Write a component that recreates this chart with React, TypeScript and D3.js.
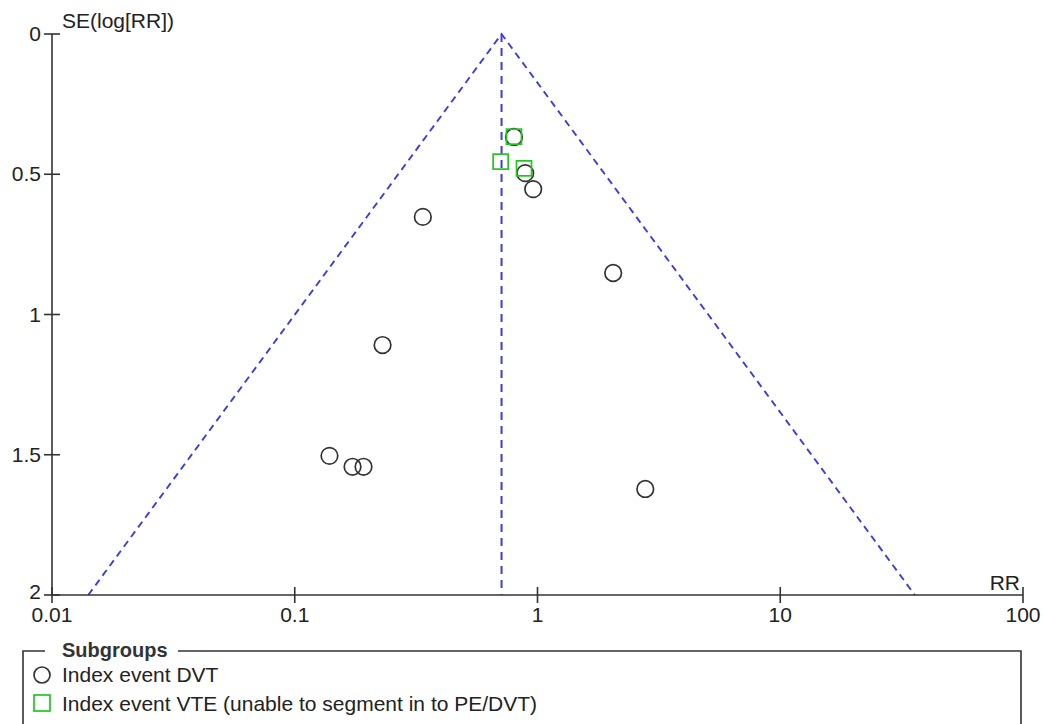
import React from "react";
import * as d3 from "d3";

const dvtRR = [0.80, 0.89, 0.96, 0.337, 2.05, 0.23, 0.139, 0.173, 0.192, 2.78];
const dvtSE = [0.367, 0.496, 0.553, 0.652, 0.852, 1.109, 1.504, 1.543, 1.543, 1.622];
const vteRR = [0.80, 0.705, 0.88];
const vteSE = [0.366, 0.455, 0.479];
const pooledRR = 0.711;
const xTicks = [0.01, 0.1, 1, 10, 100];
const xTickLabels = ["0.01", "0.1", "1", "10", "100"];
const yTicks = [0, 0.5, 1, 1.5, 2];
const yTickLabels = ["0", "0.5", "1", "1.5", "2"];
const legendLabels = ["Index event DVT", "Index event VTE (unable to segment in to PE/DVT)"];

const W = 1043;
const H = 724;
const FONT = "'Liberation Sans', Arial, sans-serif";
const FS = 21;

export default function App() {
  const x = d3.scaleLog().domain([0.01, 100]).range([52, 1023]);
  const y = d3.scaleLinear().domain([0, 2]).range([34, 595]);
  const axisColor = "#333";
  const blue = "#3c3ce0";
  const green = "#1ec81e";

  const seMax = 2;
  const lp = Math.log(pooledRR);
  const funnel = d3.line<[number, number]>()
    .x((d) => x(d[0]))
    .y((d) => y(d[1]));
  const funnelPts: [number, number][] = [
    [Math.exp(lp - 1.96 * seMax), seMax],
    [pooledRR, 0],
    [Math.exp(lp + 1.96 * seMax), seMax],
  ];

  const x0 = x(0.01);
  const y0 = y(2);

  return (
    <div style={{ position: "absolute", left: 0, top: 0 }}>
      <svg width={W} height={H} style={{ display: "block", background: "#fff" }} fontFamily={FONT}>
        {/* funnel */}
        <path d={funnel(funnelPts) || ""} fill="none" stroke={blue} strokeWidth={1.9} strokeDasharray="7,5" />
        <line x1={x(pooledRR)} x2={x(pooledRR)} y1={y(0)} y2={y(2)} stroke={blue} strokeWidth={2} strokeDasharray="8,6" />

        {/* axes */}
        <line x1={x0} x2={x0} y1={y(0)} y2={y0} stroke={axisColor} strokeWidth={1.6} />
        <line x1={x0} x2={x(100)} y1={y0} y2={y0} stroke={axisColor} strokeWidth={1.6} />
        {yTicks.map((t, i) => (
          <g key={"y" + i}>
            <line x1={x0 - 8} x2={x0 + 8} y1={y(t)} y2={y(t)} stroke={axisColor} strokeWidth={1.6} />
            <text x={x0 - 11} y={y(t) + (i === yTicks.length - 1 ? 4 : 7)} fontSize={FS} textAnchor="end" fill="#222">{yTickLabels[i]}</text>
          </g>
        ))}
        {xTicks.map((t, i) => (
          <g key={"x" + i}>
            <line x1={x(t)} x2={x(t)} y1={y0 - 8} y2={y0 + 8} stroke={axisColor} strokeWidth={1.6} />
            <text x={x(t)} y={y0 + 27} fontSize={FS} textAnchor="middle" fill="#222">{xTickLabels[i]}</text>
          </g>
        ))}
        <text x={62} y={28} fontSize={FS} fill="#222">SE(log[RR])</text>
        <text x={1020} y={590} fontSize={FS} textAnchor="end" fill="#222">RR</text>

        {/* points */}
        {dvtRR.map((v, i) => (
          <circle key={"c" + i} cx={x(v)} cy={y(dvtSE[i])} r={8.3} fill="none" stroke="#333" strokeWidth={1.7} />
        ))}
        {vteRR.map((v, i) => (
          <rect key={"s" + i} x={x(v) - 7.5} y={y(vteSE[i]) - 7.5} width={15} height={15} fill="none" stroke={green} strokeWidth={1.7} />
        ))}

        {/* legend */}
        <path d={`M45,651 L23,651 L23,730 M1021,730 L1021,651 L178,651`} fill="none" stroke={axisColor} strokeWidth={1.6} />
        <text x={62} y={657} fontSize={FS - 1} fontWeight="bold" fill="#333">Subgroups</text>
        <circle cx={42} cy={675} r={8} fill="none" stroke="#333" strokeWidth={1.7} />
        <text x={62} y={682} fontSize={FS} fill="#222">{legendLabels[0]}</text>
        <rect x={34} y={695} width={16} height={16} fill="none" stroke={green} strokeWidth={1.7} />
        <text x={62} y={711} fontSize={FS} fill="#222">{legendLabels[1]}</text>
      </svg>
    </div>
  );
}
